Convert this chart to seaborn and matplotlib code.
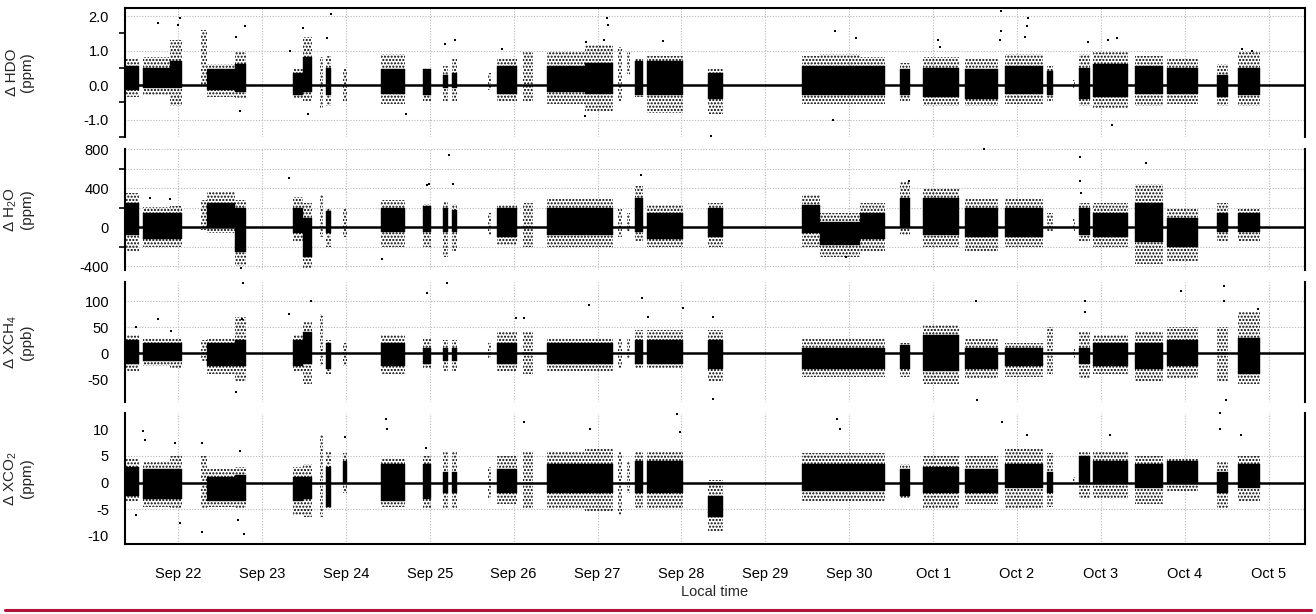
import numpy as np
import pandas as pd
import matplotlib
matplotlib.use("Agg")
import matplotlib.pyplot as plt
import seaborn as sns
from matplotlib.lines import Line2D

# ---------------- data (days since Sep 21 00:00 local time) ----------------
seg_start = [0.380, 0.583, 0.905, 1.274, 1.346, 1.680, 2.371, 2.490, 2.693, 2.764,
             2.967, 3.420, 3.920, 4.158, 4.266, 4.695, 4.802, 5.112, 5.398, 5.851,
             6.244, 6.352, 6.447, 6.590, 7.317, 8.437, 8.652, 9.129, 9.605, 9.879,
             10.380, 10.857, 11.358, 11.667, 11.739, 11.906, 12.407, 12.788, 13.385, 13.636]
seg_end = [0.535, 0.905, 1.048, 1.346, 1.680, 1.811, 2.490, 2.597, 2.729, 2.824,
           3.014, 3.706, 4.016, 4.218, 4.325, 4.731, 5.040, 5.231, 5.851, 6.185,
           6.292, 6.387, 6.542, 7.019, 7.496, 8.652, 9.129, 9.427, 9.724, 10.308,
           10.773, 11.310, 11.430, 11.691, 11.870, 12.323, 12.741, 13.158, 13.516, 13.898]
nan = np.nan

# Delta HDO (ppm): dense core band and sparse envelope per measurement block
hdo_core_lo = [-0.15, -0.1, -0.1, nan, -0.15, -0.2, -0.3, -0.2, nan, -0.3, nan, -0.25, -0.3, -0.1, -0.1, nan, -0.25, nan, -0.2, -0.25,
               nan, nan, -0.3, -0.3, -0.4, -0.3, -0.3, -0.3, -0.3, -0.35, -0.4, -0.25, -0.3, nan, -0.4, -0.35, -0.25, -0.25, -0.35, -0.3]
hdo_core_hi = [0.55, 0.5, 0.7, nan, 0.45, 0.6, 0.35, 0.8, nan, 0.5, nan, 0.45, 0.45, 0.3, 0.35, nan, 0.55, nan, 0.55, 0.65,
               nan, nan, 0.7, 0.7, 0.35, 0.55, 0.55, 0.55, 0.45, 0.5, 0.45, 0.55, 0.4, nan, 0.5, 0.6, 0.55, 0.5, 0.3, 0.5]
hdo_env_lo = [-0.35, -0.3, -0.6, 0.0, -0.35, -0.4, -0.4, -0.45, -0.7, -0.6, -0.5, -0.55, -0.45, -0.45, -0.45, -0.15, -0.5, -0.45, -0.55, -0.75,
              -0.5, 0.3, -0.35, -0.8, -0.85, -0.55, -0.55, -0.55, -0.45, -0.6, -0.6, -0.55, -0.45, -0.1, -0.6, -0.7, -0.6, -0.55, -0.6, -0.6]
hdo_env_hi = [0.75, 0.8, 1.3, 1.6, 0.6, 1.0, 0.5, 1.4, 0.8, 0.85, 0.45, 0.9, 0.5, 0.55, 0.75, 0.35, 0.75, 0.95, 0.95, 1.15,
              1.1, 1.0, 0.75, 0.85, 0.45, 0.85, 0.9, 0.8, 0.63, 0.8, 0.75, 0.9, 0.55, 0.15, 0.9, 1.0, 0.85, 0.75, 0.6, 1.0]
hdo_out_t = [0.762, 1.024, 1.000, 1.799, 1.691, 1.739, 2.490, 2.550, 2.335, 2.776, 2.824, 3.717, 4.182, 4.301, 4.862,
             6.113, 6.125, 6.078, 5.863, 5.851, 6.781, 7.353, 8.830, 9.081, 8.807, 10.058, 10.082, 10.809, 10.809,
             10.797, 11.119, 11.131, 11.095, 11.847, 12.085, 12.193, 12.133, 13.682, 13.801]
hdo_out_v = [1.8, 1.95, 1.75, 1.7, 1.4, -0.75, 1.65, -0.85, 1.0, 1.35, 2.05, -0.85, 1.2, 1.3, 1.05,
             1.94, 1.75, 1.3, 1.25, -0.9, 1.28, -1.48, 1.58, 1.35, -1.0, 1.3, 1.1, 2.16, 1.58,
             1.3, 1.7, 1.95, 1.4, 1.25, 1.3, 1.35, -1.15, 1.05, 1.0]

# Delta H2O (ppm)
h2o_core_lo = [-80, -120, -120, nan, 0, -250, -60, -300, nan, -60, nan, -50, -50, -50, -50, nan, -100, nan, -80, -80,
               nan, nan, -50, -120, -100, -60, -180, -120, 0, -80, -100, -100, nan, nan, -80, -100, -150, -200, -50, -50]
h2o_core_hi = [250, 150, 150, nan, 250, 200, 200, 100, nan, 170, nan, 200, 220, 200, 180, nan, 200, nan, 200, 200,
               nan, nan, 300, 150, 200, 230, 50, 150, 300, 300, 200, 200, nan, nan, 200, 150, 250, 100, 150, 150]
h2o_env_lo = [-250, -200, -200, -30, -60, -400, -150, -420, -100, -200, -100, -200, -200, -300, -250, -80, -180, -200, -200, -200,
              -100, -50, -150, -200, -200, -200, -300, -250, -80, -200, -250, -200, -50, -50, -150, -200, -380, -350, -150, -150]
h2o_env_hi = [350, 210, 220, 280, 370, 280, 310, 250, 330, 200, 200, 280, 240, 260, 240, 150, 230, 250, 290, 290,
              200, 150, 420, 230, 250, 330, 150, 250, 480, 400, 300, 300, 150, 100, 250, 250, 450, 200, 250, 200]
h2o_out_t = [0.667, 0.905, 2.324, 3.432, 3.968, 4.230, 3.992, 4.277, 6.518, 8.962, 9.713, 10.607, 11.751, 11.751, 11.763, 12.537, 1.751]
h2o_out_v = [300, 290, 510, -320, 440, 740, 450, 450, 540, -300, 480, 800, 720, 480, 350, 660, -420]

# Delta XCH4 (ppb)
ch4_core_lo = [-20, -15, -15, nan, -25, -25, -25, -20, nan, -30, nan, -25, -20, -15, -15, nan, -20, nan, -20, -20,
               nan, nan, -20, -20, -30, -30, -30, -30, -30, -35, -30, -25, nan, nan, -20, -25, -30, -25, nan, -40]
ch4_core_hi = [25, 20, 20, nan, 20, 25, 25, 40, nan, 20, nan, 20, 10, 10, 10, nan, 20, nan, 20, 20,
               nan, nan, 25, 25, 25, 10, 10, 10, 15, 35, 10, 10, nan, nan, 10, 20, 20, 25, nan, 30]
ch4_env_lo = [-35, -25, -30, -15, -40, -55, -35, -60, -25, -40, -25, -40, -30, -35, -35, -10, -35, -40, -35, -35,
              -30, -10, -30, -30, -55, -45, -45, -45, -45, -60, -50, -45, -40, -10, -50, -40, -55, -50, -55, -60]
ch4_env_hi = [35, 30, 30, 25, 30, 70, 35, 60, 75, 25, 20, 35, 30, 25, 25, 20, 40, 40, 30, 30,
              30, 30, 45, 45, 45, 30, 30, 30, 20, 55, 30, 20, 50, 10, 40, 35, 40, 50, 50, 80]
ch4_out_t = [0.501, 0.762, 0.917, 1.763, 1.775, 1.691, 2.585, 2.323, 3.968, 4.206, 5.029, 5.125, 5.899, 6.531, 6.603,
             7.019, 7.377, 7.377, 10.511, 10.523, 11.811, 11.811, 12.955, 13.466, 13.466, 13.490, 13.872]
ch4_out_v = [50, 65, 42, 65, 135, -75, 100, 75, 115, 135, 67, 67, 92, 107, 70,
             87, -88, 70, 100, -90, 100, 80, 120, 130, 100, -90, 85]

# Delta XCO2 (ppm)
co2_core_lo = [-2.5, -3, -3, nan, -3.5, -3.5, -3.5, -3, nan, -4.5, 0, -3.5, -3, -2, -2, nan, -2, nan, -2, -2,
               nan, nan, -2, -2, -6.5, -1.5, -1.5, -1.5, -2.5, -2, -2, -1, -2, nan, 0, 0, -1, 0, -2, -1]
co2_core_hi = [3, 2.5, 2.5, nan, 1, 1.5, 1, 1, nan, 3, 4, 3.5, 3.5, 2, 2, nan, 2.5, nan, 3.5, 3.5,
               nan, nan, 4, 4, -2.5, 3.5, 3.5, 3.5, 2.5, 3, 2.5, 3.5, 2, nan, 5, 4, 3.5, 4, 2, 3.5]
co2_env_lo = [-3.5, -4.5, -5, -5, -4.5, -5, -6, -6.5, -6.5, -5, -2, -4.5, -5, -5, -5, -3, -4, -5, -5, -5.5,
              -6, -2, -5, -5, -9, -3.5, -3.5, -3.5, -3, -5, -4, -5, -4.5, 0, -3, -3, -4, -1.5, -5, -3.5]
co2_env_hi = [4.5, 4, 5, 5, 2.5, 3, 3, 3.5, 9, 6, 5.5, 4.5, 5, 6, 6, 3, 5, 6, 6, 6.5,
              6, 4, 6, 6, 0.5, 5.5, 5.5, 5.5, 3.5, 5, 5, 6.5, 5.5, 1, 6, 6, 5, 4.5, 4, 5]
co2_out_t = [0.583, 0.607, 0.964, 1.024, 0.499, 1.286, 1.286, 1.739, 1.787, 1.715, 2.991, 3.479, 3.491, 3.956,
             5.125, 5.911, 6.948, 6.984, 8.855, 8.891, 10.821, 11.119, 12.109, 13.419, 13.419, 13.671]
co2_out_v = [9.7, 8, 7.5, -7.5, -6, 7.5, -9.2, 6, -9.7, -7, 8.5, 12, 10, 6.5,
             11.4, 10, 12.8, 9.5, 12, 10, 11.4, 9, 9, 13, 10, 9]

day_ticks = list(range(1, 15))
day_labels = ["Sep 22", "Sep 23", "Sep 24", "Sep 25", "Sep 26", "Sep 27", "Sep 28",
              "Sep 29", "Sep 30", "Oct 1", "Oct 2", "Oct 3", "Oct 4", "Oct 5"]

panels = [
    dict(label="Δ HDO\n(ppm)", ylim=(-1.5, 2.23), major=[-1.0, 0.0, 1.0, 2.0], minor=[-1.5, -0.5, 0.5, 1.5],
         grid=[-1.0, 1.0, 2.0], fmt="{:.1f}",
         core=(hdo_core_lo, hdo_core_hi), env=(hdo_env_lo, hdo_env_hi), out=(hdo_out_t, hdo_out_v)),
    dict(label="Δ H$_2$O\n(ppm)", ylim=(-440, 805), major=[-400, 0, 400, 800], minor=[-200, 200, 600],
         grid=[-400, -200, 200, 400, 600, 800], fmt="{:.0f}",
         core=(h2o_core_lo, h2o_core_hi), env=(h2o_env_lo, h2o_env_hi), out=(h2o_out_t, h2o_out_v)),
    dict(label="Δ XCH$_4$\n(ppb)", ylim=(-94, 137), major=[-50, 0, 50, 100], minor=[],
         grid=[50, 100], fmt="{:.0f}",
         core=(ch4_core_lo, ch4_core_hi), env=(ch4_env_lo, ch4_env_hi), out=(ch4_out_t, ch4_out_v)),
    dict(label="Δ XCO$_2$\n(ppm)", ylim=(-11.5, 13.05), major=[-10, -5, 0, 5, 10], minor=[],
         grid=[-5, 5], fmt="{:.0f}",
         core=(co2_core_lo, co2_core_hi), env=(co2_env_lo, co2_env_hi), out=(co2_out_t, co2_out_v)),
]

# ---------------- style ----------------
sns.set_theme(style="white")
plt.rcParams["font.family"] = ["Liberation Sans", "DejaVu Sans"]
plt.rcParams["mathtext.fontset"] = "custom"
plt.rcParams["mathtext.rm"] = "Liberation Sans"
plt.rcParams["mathtext.it"] = "Liberation Sans:italic"
plt.rcParams["hatch.color"] = "black"
plt.rcParams["hatch.linewidth"] = 1.0

fig = plt.figure(figsize=(13.16, 6.14), dpi=100)
H = 614.0
W = 1316.0
x0, x1 = 125.0, 1305.0
rows = [(8.1, 136.75), (149.0, 270.2), (282.0, 402.0), (413.0, 544.0)]
xlim = (0.368, 14.432)

axes = []
for i, (p, (ytop, ybot)) in enumerate(zip(panels, rows)):
    ax = fig.add_axes([x0 / W, 1 - ybot / H, (x1 - x0) / W, (ybot - ytop) / H])
    axes.append(ax)
    ax.set_xlim(*xlim)
    ax.set_ylim(*p["ylim"])
    # grids
    for d in day_ticks:
        ax.axvline(d, color="#b8b8b8", lw=0.8, ls=(0, (1, 1.5)), zorder=0)
    for g in p["grid"]:
        ax.axhline(g, color="#b8b8b8", lw=0.8, ls=(0, (1, 1.5)), zorder=0)
    # measurement blocks
    clo, chi = p["core"]
    elo, ehi = p["env"]
    for s, e, a, b, c, d in zip(seg_start, seg_end, elo, ehi, clo, chi):
        ax.fill_between([s, e], [a, a], [b, b], facecolor="none", edgecolor="black",
                        hatch=".....", linewidth=0, zorder=2)
        if not np.isnan(c):
            ax.fill_between([s, e], [c, c], [d, d], facecolor="black", edgecolor="black",
                            linewidth=0.3, zorder=3)
    ot, ov = p["out"]
    df = pd.DataFrame({"t": ot, "v": ov})
    sns.scatterplot(data=df, x="t", y="v", ax=ax, color="black", marker="s", s=4,
                    linewidth=0, zorder=4, legend=False, clip_on=False)
    ax.axhline(0, color="black", lw=1.8, zorder=5)
    # axes styling
    ax.set_yticks(p["major"])
    ax.set_yticklabels([p["fmt"].format(v) for v in p["major"]], fontsize=10.5)
    ax.set_yticks(p["minor"], minor=True)
    ax.tick_params(axis="y", which="major", direction="out", length=8.5, width=1.4, pad=3, colors="black")
    ax.tick_params(axis="y", which="minor", direction="out", length=4.3, width=1.4, left=True)
    ax.set_ylabel(p["label"], fontsize=11, linespacing=1.1)
    ax.yaxis.set_label_coords(-0.077, 0.5)
    ax.set_xlabel("")
    for side in ["left", "right", "top", "bottom"]:
        ax.spines[side].set_color("black")
        ax.spines[side].set_linewidth(1.5)
    ax.spines["top"].set_visible(i == 0)
    ax.spines["bottom"].set_visible(i == 3)
    ax.set_xticks(day_ticks)
    if i == 3:
        ax.set_xticklabels(day_labels, fontsize=10.5)
        ax.tick_params(axis="x", direction="out", length=8.5, width=1.4, pad=8, colors="black")
        ax.set_xlabel("Local time", fontsize=10.5, labelpad=3)
    else:
        ax.set_xticklabels([])
        ax.tick_params(axis="x", length=0)

fig.add_artist(Line2D([5 / W, 1311 / W], [1 - 610 / H, 1 - 610 / H], color="#b0123a", lw=2.2))
fig.savefig("out.png", dpi=100)
